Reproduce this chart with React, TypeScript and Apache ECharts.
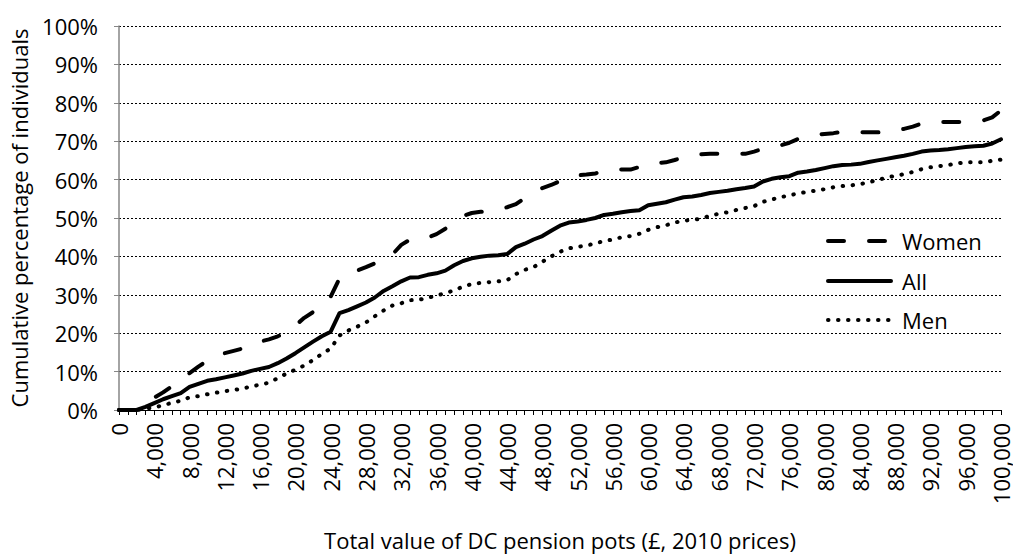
import React, { useEffect, useRef } from "react";
import * as echarts from "echarts";

// Pension pot values (£, 2010 prices), every 1,000 from 0 to 100,000
const potValues: number[] = Array.from({ length: 101 }, (_, i) => i * 1000);

const allPct: number[] = [
  0, 0, 0, 0.8, 1.8, 2.8, 3.6, 4.4, 6, 6.8,
  7.6, 8, 8.5, 9, 9.5, 10.2, 10.7, 11.2, 12.2, 13.4,
  14.8, 16.3, 17.8, 19.2, 20.4, 25.2, 26, 27, 28, 29.3,
  31, 32.2, 33.5, 34.5, 34.6, 35.2, 35.6, 36.3, 37.7, 38.8,
  39.5, 39.9, 40.2, 40.3, 40.6, 42.4, 43.3, 44.4, 45.3, 46.7,
  48, 48.8, 49.1, 49.5, 50, 50.8, 51.1, 51.5, 51.8, 52,
  53.3, 53.7, 54.1, 54.8, 55.4, 55.6, 56, 56.5, 56.8, 57.1,
  57.5, 57.8, 58.2, 59.5, 60.2, 60.6, 60.9, 61.8, 62.1, 62.5,
  63, 63.5, 63.8, 63.9, 64.1, 64.6, 65, 65.4, 65.8, 66.2,
  66.7, 67.3, 67.6, 67.7, 67.9, 68.2, 68.5, 68.7, 68.8, 69.4,
  70.5,
];

const womenPct: number[] = [
  0, 0, 0, 1.5, 3.2, 4.6, 6.2, 7.8, 9.6, 11.3,
  12.8, 14, 14.8, 15.4, 16, 17, 17.8, 18.4, 19.2, 20.2,
  22, 24, 25.5, 26.8, 29.5, 34.3, 35.5, 36.3, 37.2, 38.2,
  39.3, 40.5, 43, 44.4, 44.6, 44.9, 45.8, 47.2, 48.8, 50.5,
  51.3, 51.6, 51.9, 52.2, 52.8, 53.6, 55.2, 56.8, 57.8, 58.6,
  59.6, 60.7, 61.1, 61.3, 61.6, 62.2, 62.6, 62.6, 62.6, 63.3,
  64, 64.3, 64.5, 65.1, 65.8, 66.3, 66.6, 66.7, 66.7, 66.7,
  66.7, 66.7, 67.3, 68, 68.5, 68.9, 69.6, 70.6, 71.2, 71.6,
  71.9, 72.1, 72.4, 72.4, 72.3, 72.3, 72.3, 72.4, 72.8, 73.2,
  73.8, 74.6, 74.9, 75, 75, 75, 75, 75.1, 75.4, 76.2,
  78,
];

const menPct: number[] = [
  0, 0, 0, 0.3, 0.7, 1.2, 1.9, 2.4, 3.3, 3.6,
  4.1, 4.5, 4.9, 5.2, 5.6, 6.1, 6.6, 7.1, 8.3, 9.5,
  10.5, 11.6, 13, 14.6, 16, 19.4, 20.7, 21.7, 22.8, 24.4,
  25.9, 27.2, 27.8, 28.6, 28.7, 29.2, 29.8, 30.4, 31.2, 32.1,
  32.8, 33.1, 33.3, 33.5, 33.8, 35.4, 36.5, 37.2, 38.6, 40,
  41.2, 42.1, 42.5, 42.8, 43.4, 44, 44.4, 45, 45.3, 45.9,
  46.9, 47.6, 48.1, 48.8, 49.3, 49.5, 49.8, 50.6, 51.1, 51.5,
  52.1, 52.6, 53.1, 54.2, 54.8, 55.4, 55.9, 56.4, 56.8, 57.1,
  57.5, 58, 58.3, 58.5, 58.8, 59.3, 59.9, 60.5, 61, 61.4,
  62, 62.7, 63.2, 63.5, 63.8, 64.2, 64.5, 64.5, 64.5, 64.9,
  65.2,
];

const seriesNames = ["Women", "All", "Men"];
const xAxisTitle = "Total value of DC pension pots (£, 2010 prices)";
const yAxisTitle = "Cumulative percentage of individuals";

const FONT = '"Open Sans", "Noto Sans", sans-serif';
const FS = 22;

const womenDash = [16, 25];
const menDash = [0.5, 9.5];

export default function App() {
  const ref = useRef<HTMLDivElement>(null);

  useEffect(() => {
    if (!ref.current) return;
    const chart = echarts.init(ref.current, undefined, { renderer: "svg" });

    const lineBase = { width: 4, color: "#000", cap: "round", join: "round" };

    const legendItems = [
      { name: seriesNames[0], y: 241, dash: womenDash },
      { name: seriesNames[1], y: 281, dash: "solid" },
      { name: seriesNames[2], y: 320, dash: menDash },
    ];

    const graphic: any[] = [];
    legendItems.forEach((it) => {
      graphic.push({
        type: "line",
        shape: { x1: 828, y1: it.y, x2: 891, y2: it.y },
        style: {
          stroke: "#000",
          lineWidth: 4,
          lineCap: "round",
          lineDash: it.dash === "solid" ? null : it.dash,
        },
        z: 10,
      });
      graphic.push({
        type: "text",
        x: 902,
        y: it.y,
        style: {
          text: it.name,
          fontSize: FS,
          fontFamily: FONT,
          fill: "#000",
          verticalAlign: "middle",
        },
        z: 10,
      });
    });

    chart.setOption({
      animation: false,
      backgroundColor: "#fff",
      textStyle: { fontFamily: FONT, color: "#000" },
      grid: { left: 114, right: 12, top: 26, bottom: 134, containLabel: false },
      xAxis: {
        type: "category",
        data: potValues,
        boundaryGap: false,
        name: xAxisTitle,
        nameLocation: "middle",
        nameGap: 119,
        nameTextStyle: { fontSize: FS, color: "#000", fontFamily: FONT },
        axisLine: { lineStyle: { color: "#000", width: 1 } },
        axisTick: { show: true, interval: 0, length: 5, inside: false, lineStyle: { color: "#000" } },
        axisLabel: {
          interval: 3,
          rotate: 90,
          fontSize: FS,
          lineHeight: 16,
          color: "#000",
          fontFamily: FONT,
          margin: 13,
          formatter: (v: string) => Number(v).toLocaleString("en-US"),
        },
        splitLine: { show: false },
      },
      yAxis: {
        type: "value",
        min: 0,
        max: 100,
        interval: 10,
        name: yAxisTitle,
        nameLocation: "middle",
        nameGap: 89,
        nameRotate: 90,
        nameTextStyle: { fontSize: FS, color: "#000", fontFamily: FONT },
        axisLine: { show: true, lineStyle: { color: "#868686", width: 1.5 } },
        axisTick: { show: true, length: 5, lineStyle: { color: "#868686" } },
        axisLabel: {
          fontSize: FS,
          color: "#000",
          fontFamily: FONT,
          margin: 21,
          formatter: "{value}%",
        },
        splitLine: { show: true, lineStyle: { color: "#000", width: 1, type: [2, 2] } },
      },
      series: [
        {
          name: seriesNames[0],
          type: "line",
          data: womenPct,
          symbol: "none",
          lineStyle: { ...lineBase, type: womenDash },
          z: 3,
        },
        {
          name: seriesNames[1],
          type: "line",
          data: allPct,
          symbol: "none",
          lineStyle: { ...lineBase, type: "solid" },
          z: 4,
        },
        {
          name: seriesNames[2],
          type: "line",
          data: menPct,
          symbol: "none",
          lineStyle: { ...lineBase, type: menDash },
          z: 2,
        },
      ],
      graphic,
    });

    return () => chart.dispose();
  }, []);

  return (
    <div
      ref={ref}
      style={{ position: "fixed", left: 0, top: 0, width: 1013, height: 556, background: "#fff" }}
    />
  );
}
